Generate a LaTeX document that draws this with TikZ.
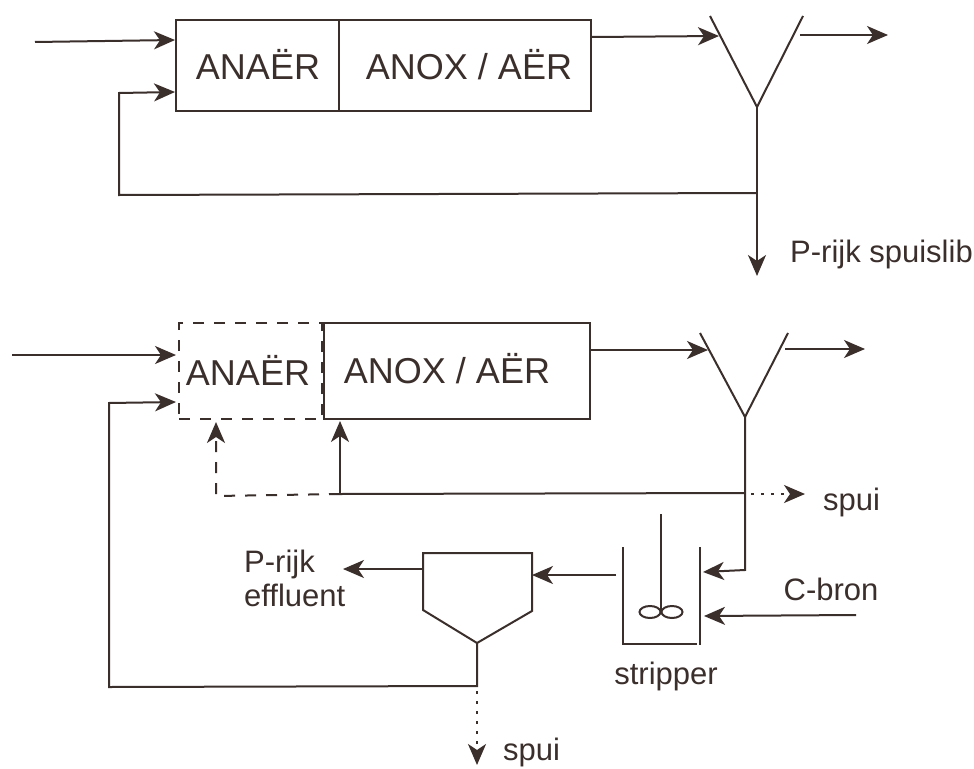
\documentclass[tikz,border=0pt]{standalone}
\usepackage{fontspec}
\setmainfont{Liberation Sans}
\usetikzlibrary{arrows.meta}
\definecolor{ink}{HTML}{3B2F2C}
\tikzset{
  every node/.style={text=ink},
  line/.style={draw=ink,line width=2pt},
  flow/.style={line,-{Stealth[length=21pt,width=18pt,inset=6pt]}},
  dashflow/.style={flow,dash pattern=on 11pt off 10pt},
  dotflow/.style={flow,dash pattern=on 3pt off 7pt},
  tank/.style={draw=ink,line width=2pt,rectangle,inner sep=0pt,anchor=north west,fill=none},
  bigtxt/.style={font=\fontsize{36}{36}\selectfont,inner sep=0pt,anchor=base},
  lab/.style={font=\fontsize{31}{34}\selectfont,inner sep=0pt},
}
\begin{document}
\begin{tikzpicture}[x=1pt,y=-1pt]
\path[use as bounding box,fill=white] (0,0) rectangle (974,768);

% top line
\node[tank,minimum width=163pt,minimum height=91pt] (a1) at (175,19) {};
\node[tank,minimum width=252pt,minimum height=91pt] (b1) at (338,19) {};
\node[bigtxt] (t1) at (258,79) {ANAËR};
\node[bigtxt] (t2) at (469,79) {ANOX / AËR};
\coordinate (in1) at (35,42);
\coordinate (in1e) at (175,40);
\draw[flow] (in1) -- (in1e);
\coordinate (yl1) at (710,16);
\coordinate (yr1) at (803,16);
\coordinate (ya1) at (757,107);
\draw[line] (yl1) -- (ya1) -- (yr1);
\coordinate (yi1) at (719,36);
\draw[flow] (b1.north east |- 0,37) -- (yi1);
\coordinate (o1s) at (800,35);
\coordinate (o1e) at (888,35);
\draw[flow] (o1s) -- (o1e);
\coordinate (j1) at (757,193);
\coordinate (c1) at (119,195);
\coordinate (c2) at (119,93);
\coordinate (r1e) at (175,92);
\coordinate (d1) at (757,276);
\draw[flow] (ya1) -- (d1);
\draw[flow] (j1) -- (c1) -- (c2) -- (r1e);
\node[lab,anchor=base west] (spl) at (790,262) {P-rijk spuislib};

% bottom line
\node[tank,minimum width=143pt,minimum height=96pt,dash pattern=on 11pt off 10pt] (a2) at (178,322) {};
\node[tank,minimum width=266pt,minimum height=96pt] (b2) at (323,322) {};
\node[bigtxt] (t3) at (248,385) {ANAËR};
\node[bigtxt] (t4) at (447,383) {ANOX / AËR};
\coordinate (in2) at (12,355);
\coordinate (in2e) at (176,355);
\draw[flow] (in2) -- (in2e);
\coordinate (yl2) at (700,333);
\coordinate (yr2) at (788,333);
\coordinate (ya2) at (745,417);
\draw[line] (yl2) -- (ya2) -- (yr2);
\coordinate (yi2) at (708,350);
\draw[flow] (b2.north east |- 0,350) -- (yi2);
\coordinate (o2s) at (785,349);
\coordinate (o2e) at (865,349);
\draw[flow] (o2s) -- (o2e);
\coordinate (j2) at (745,493);
\coordinate (j3) at (340,494);
\coordinate (up1) at (340,421);
\coordinate (j4) at (216,496);
\coordinate (up2) at (216,422);
\draw[line] (j2) -- (j3);
\draw[flow] (j3) -- (up1);
\draw[dashflow] (j3) -- (j4) -- (up2);
\coordinate (ds) at (751,494);
\coordinate (de) at (805,494);
\draw[dotflow] (ds) -- (de);
\node[lab,anchor=base west] (sp1) at (823,510) {spui};

% stripper
\coordinate (sl) at (623,547);
\coordinate (sbl) at (623,644);
\coordinate (sbr) at (697,644);
\coordinate (srt) at (700,547);
\coordinate (srb) at (700,645);
\draw[line] (sl) -- (sbl) -- (sbr);
\draw[line] (srt) -- (srb);
\coordinate (st) at (661,514);
\coordinate (sm) at (661,611);
\draw[line] (st) -- (sm);
\draw[line] (650,612) ellipse [x radius=10.5,y radius=6];
\draw[line] (672,612) ellipse [x radius=10.5,y radius=6];
\node[lab,anchor=base] (stx) at (666,684) {stripper};
\coordinate (c3) at (745,570);
\coordinate (c3e) at (703,572);
\draw[flow] (ya2) -- (c3) -- (c3e);
\coordinate (cbs) at (856,615);
\coordinate (cbe) at (704,616);
\draw[flow] (cbs) -- (cbe);
\node[lab,anchor=base] (cb) at (831,600) {C-bron};

% settler
\coordinate (s1) at (423,553);
\coordinate (s2) at (532,553);
\coordinate (s3) at (532,611);
\coordinate (s4) at (477,643);
\coordinate (s5) at (423,610);
\draw[line,line join=miter] (s1) -- (s2) -- (s3) -- (s4) -- (s5) -- cycle;
\coordinate (so) at (616,575);
\coordinate (soe) at (532,575);
\draw[flow] (so) -- (soe);
\coordinate (eo) at (423,569);
\coordinate (eoe) at (343,569);
\draw[flow] (eo) -- (eoe);
\node[lab,anchor=base west] (pe) at (244,572) {P-rijk};
\node[lab,anchor=base west] (pf) at (244,606) {effluent};
\coordinate (c4) at (477,686);
\coordinate (c5) at (109,687);
\coordinate (c6) at (109,403);
\coordinate (c6e) at (176,402);
\draw[flow] (s4) -- (c4) -- (c5) -- (c6) -- (c6e);
\coordinate (ds2) at (477,691);
\coordinate (de2) at (477,765);
\draw[dotflow] (ds2) -- (de2);
\node[lab,anchor=base west] (sp2) at (503,760) {spui};
\end{tikzpicture}
\end{document}
